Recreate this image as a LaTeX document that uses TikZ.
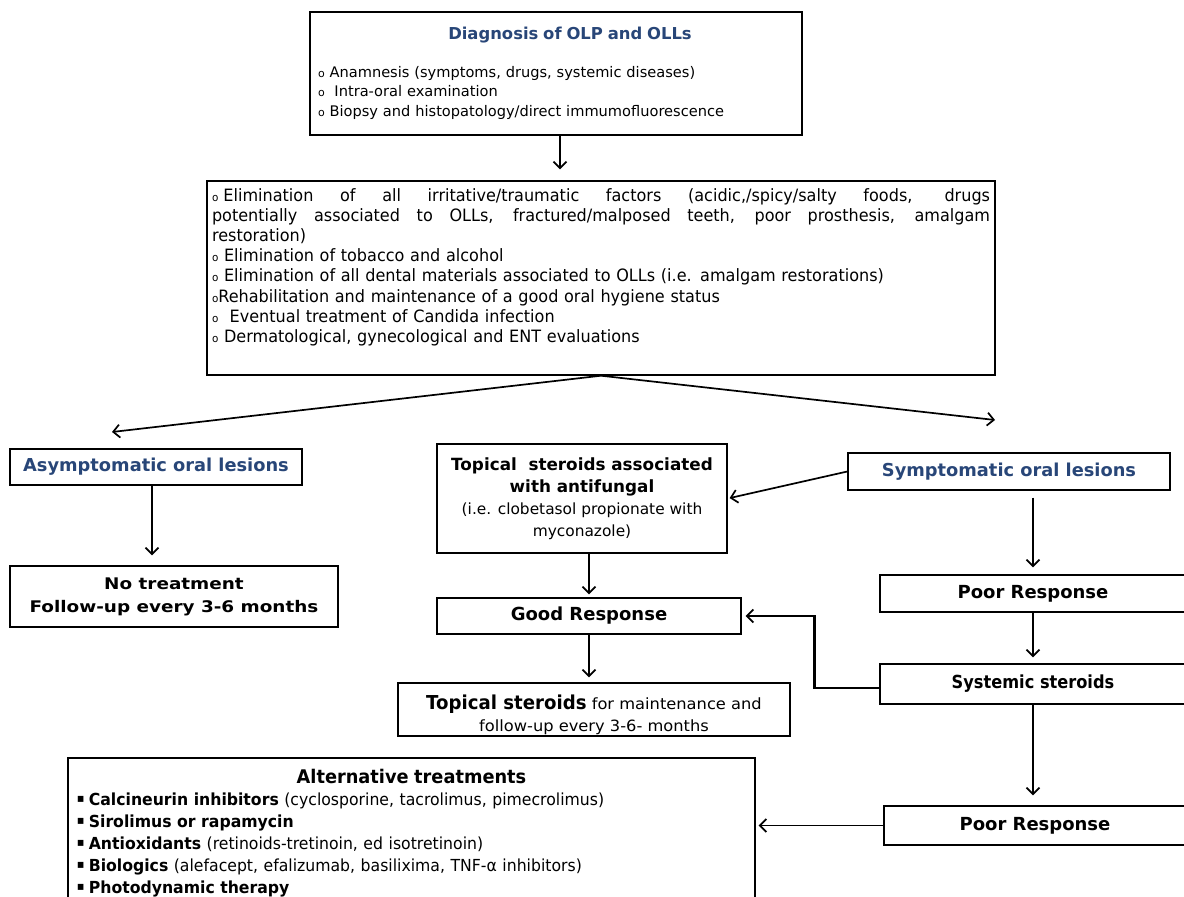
\documentclass[tikz,border=0pt]{standalone}
\usepackage{fontspec}
\setmainfont{DejaVu Sans}
\newfontfamily\cndA[FakeStretch=0.945]{DejaVu Sans}
\newfontfamily\cndB[FakeStretch=0.9]{DejaVu Sans}
\newfontfamily\wideB[FakeStretch=1.15]{DejaVu Sans}
\newfontfamily\wideC[FakeStretch=1.05]{DejaVu Sans}
\usetikzlibrary{arrows.meta}
\definecolor{navy}{RGB}{40,70,120}
\newcommand\olpbul{{\fontsize{11}{11}\selectfont o}}
\newcommand\sqbul{\raisebox{2.5pt}{\fontsize{12}{12}\selectfont ▪}\hspace{0.25em}}
\begin{document}
\begin{tikzpicture}[x=1pt,y=-1pt,
  box/.style={draw, line width=1.4pt, inner sep=0pt, align=center},
  arr/.style={line width=1.7pt, -{Straight Barb[length=6.5pt,width=13pt,line width=1.7pt]}},
  bluetitle/.style={font=\fontsize{17.8}{20}\selectfont\bfseries, text=navy},
  respbold/.style={font=\bfseries\fontsize{18}{22}\selectfont}]
\useasboundingbox (0,0) rectangle (1184,897);
\fill[white] (0,0) rectangle (1184,897);
\clip (0,0) rectangle (1184,897);

\node[box, minimum width=492pt, minimum height=123pt, text width=476pt, align=left,
      font=\fontsize{14.6}{19.5}\selectfont] (diag) at (556,73.5)
 {\makebox[476pt]{\hspace{28pt}\fontsize{16.4}{19}\selectfont\bfseries\color{navy}Diagnosis of OLP and OLLs}\\[18pt]
  \olpbul{} Anamnesis (symptoms, drugs, systemic diseases)\\
  \olpbul{}\ \ Intra-oral examination\\
  \olpbul{} Biopsy and histopatology/direct immumofluorescence};

\node[box, minimum width=788pt, minimum height=194pt, text width=778pt, align=left,
      font=\cndA\fontsize{17}{20.1}\selectfont] (box2) at (601,278)
 {\makebox[778pt][s]{\spaceskip=0pt\relax\olpbul\hspace{0.3em}Elimination of all irritative/traumatic factors (acidic,/spicy/salty foods, drugs}\\
  \makebox[778pt][s]{\spaceskip=0pt\relax potentially associated to OLLs, fractured/malposed teeth, poor prosthesis, amalgam}\\
  restoration)\\
  \olpbul{} Elimination of tobacco and alcohol\\
  \olpbul{} Elimination of all dental materials associated to OLLs (i.e. amalgam restorations)\\
  \olpbul{}Rehabilitation and maintenance of a good oral hygiene status\\
  \olpbul{}\ \ Eventual treatment of Candida infection\\
  \olpbul{} Dermatological, gynecological and ENT evaluations\\[5pt]
  \mbox{}};

\node[box, bluetitle, minimum width=292pt, minimum height=36pt] (asym) at (156,467) {Asymptomatic oral lesions};
\node[box, font=\wideB\bfseries\fontsize{16}{23}\selectfont, minimum width=328pt, minimum height=61pt] (notreat) at (174,596.5)
 {No treatment\\Follow-up every 3-6 months};
\node[box, minimum width=290pt, minimum height=109pt, font=\bfseries\fontsize{16.8}{22}\selectfont] (topical) at (582,498.5)
 {Topical\ \ steroids associated\\with antifungal\\
  {\mdseries\fontsize{15.4}{20}\selectfont (i.e. clobetasol propionate with}\\
  {\mdseries\fontsize{15.4}{19}\selectfont myconazole)}};
\node[box, bluetitle, minimum width=322pt, minimum height=37pt] (symp) at (1009,471.5) {Symptomatic oral lesions};
\node[box, respbold, minimum width=306pt, minimum height=37pt] (poor1) at (1033,593.5) {Poor Response};
\node[box, respbold, minimum width=304pt, minimum height=36pt] (good) at (589,616) {Good Response};
\node[box, minimum width=392pt, minimum height=53pt, font=\wideC\fontsize{15.5}{22}\selectfont] (maint) at (594,709.5)
 {\mbox{}\\[3pt]{\cndA\bfseries\fontsize{19.2}{22}\selectfont Topical steroids} for maintenance and\\follow-up every 3-6- months};
\node[box, font=\cndB\bfseries\fontsize{18}{22}\selectfont, minimum width=306pt, minimum height=40pt] (sys) at (1033,684) {Systemic steroids};
\node[box, respbold, minimum width=302pt, minimum height=39pt] (poor2) at (1035,825.5) {Poor Response};
\node[box, minimum width=687pt, minimum height=150pt, text width=669pt, align=left,
      font=\cndA\fontsize{16.6}{22}\selectfont] (alt) at (411.5,833)
 {\makebox[669pt]{\bfseries\fontsize{18.8}{22}\selectfont Alternative treatments}\\
  \sqbul{\bfseries Calcineurin inhibitors} (cyclosporine, tacrolimus, pimecrolimus)\\
  \sqbul{\bfseries Sirolimus or rapamycin}\\
  \sqbul{\bfseries Antioxidants} (retinoids-tretinoin, ed isotretinoin)\\
  \sqbul{\bfseries Biologics} (alefacept, efalizumab, basilixima, TNF-α inhibitors)\\
  \sqbul{\bfseries Photodynamic therapy}};

\coordinate (asyA) at (112,432);
\coordinate (sympA) at (995,420);

\draw[arr, shorten >=11pt] ([xshift=4pt]diag.south) -- ([xshift=4pt]diag.south |- box2.north);
\draw[arr] (box2.south) -- (asyA);
\draw[arr] (box2.south) -- (sympA);
\draw[arr, shorten >=10pt] ([xshift=-4pt]asym.south) -- ([xshift=-4pt]asym.south |- notreat.north);
\draw[arr, shorten >=2pt] (symp.west) -- (topical.east);
\draw[arr, shorten <=7pt, shorten >=7pt] (poor1.north |- symp.south) -- (poor1.north);
\draw[arr, shorten >=3pt] (good.north |- topical.south) -- (good.north);
\draw[arr, shorten >=5pt] (good.south) -- (good.south |- maint.north);
\draw[arr, shorten >=6pt] (poor1.south) -- (sys.north);
\draw[arr, shorten >=10pt] (sys.south) -- (sys.south |- poor2.north);
\draw[arr, shorten >=3pt] (poor2.west) -- (poor2.west -| alt.east);
\draw[arr, line width=2.4pt, shorten >=4pt] ([yshift=-4pt]sys.west) -- ++(-65,0) |- (good.east);
\end{tikzpicture}
\end{document}
